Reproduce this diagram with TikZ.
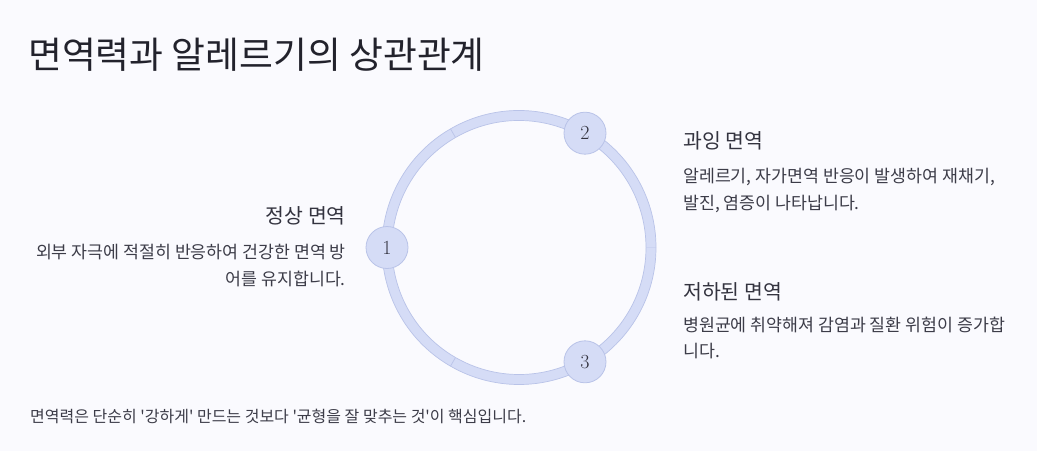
\documentclass[tikz,border=0pt]{standalone}
\usepackage{fontspec}
\newfontfamily\kr{Noto Sans CJK KR}
\definecolor{bgc}{HTML}{FAFAFE}
\definecolor{ringfill}{HTML}{D5DCF6}
\definecolor{ringline}{HTML}{B9C3E8}
\definecolor{titlec}{HTML}{22222C}
\definecolor{headc}{HTML}{33333F}
\definecolor{bodyc}{HTML}{3C3C48}
\begin{document}
\begin{tikzpicture}[x=1pt,y=-1pt,
  title/.style={font=\kr\fontsize{36.8}{40}\selectfont, text=titlec, inner sep=0pt},
  head/.style={font=\kr\fontsize{20.5}{24}\selectfont, text=headc, inner sep=0pt},
  body/.style={font=\kr\fontsize{17.3}{26.5}\selectfont, text=bodyc, inner sep=0pt},
  foot/.style={font=\kr\fontsize{16}{20}\selectfont, text=bodyc, inner sep=0pt},
  num/.style={circle, minimum size=42pt, inner sep=0pt, fill=ringfill, draw=ringline, line width=0.8pt, text=headc, font=\fontsize{20}{22}\selectfont}]
\useasboundingbox[fill=bgc] (0,0) rectangle (1037,451);
\coordinate (c) at (519,247.5);
% ring segments
\foreach \a in {0,120,240}{
  \fill[ringfill] ([shift={(\a:137)}]c) arc[start angle=\a, end angle=\a+120, radius=137]
     -- ([shift={(\a+120:127)}]c) arc[start angle=\a+120, end angle=\a, radius=127] -- cycle;
  \draw[ringline, line width=0.7pt] ([shift={(\a:137)}]c) arc[start angle=\a, end angle=\a+120, radius=137];
  \draw[ringline, line width=0.7pt] ([shift={(\a:127)}]c) arc[start angle=\a, end angle=\a+120, radius=127];
  \draw[ringline, line width=0.7pt] ([shift={(\a:127)}]c) -- ([shift={(\a:137)}]c);
}
\node[num] (n1) at ([shift={(180:132)}]c) {1};
\node[num] (n2) at ([shift={(-60:132)}]c) {2};
\node[num] (n3) at ([shift={(60:132)}]c) {3};
% texts
\node[title, anchor=base west] (t) at (28,68.5) {면역력과 알레르기의 상관관계};
\node[head, anchor=base east] (h1) at (346,223.8) {정상 면역};
\node[body, anchor=base east, align=right] (b1) at (346,285) {외부 자극에 적절히 반응하여 건강한 면역 방\\어를 유지합니다.};
\node[head, anchor=base west] (h2) at (683,148.8) {과잉 면역};
\node[body, anchor=base west, align=left] (b2) at (683,209) {알레르기, 자가면역 반응이 발생하여 재채기,\\발진, 염증이 나타납니다.};
\node[head, anchor=base west] (h3) at (683,299.8) {저하된 면역};
\node[body, anchor=base west, align=left] (b3) at (683,357.6) {병원균에 취약해져 감염과 질환 위험이 증가합\\니다.};
\node[foot, anchor=base west] (ft) at (30,422.6) {면역력은 단순히 '강하게' 만드는 것보다 '균형을 잘 맞추는 것'이 핵심입니다.};
\end{tikzpicture}
\end{document}
